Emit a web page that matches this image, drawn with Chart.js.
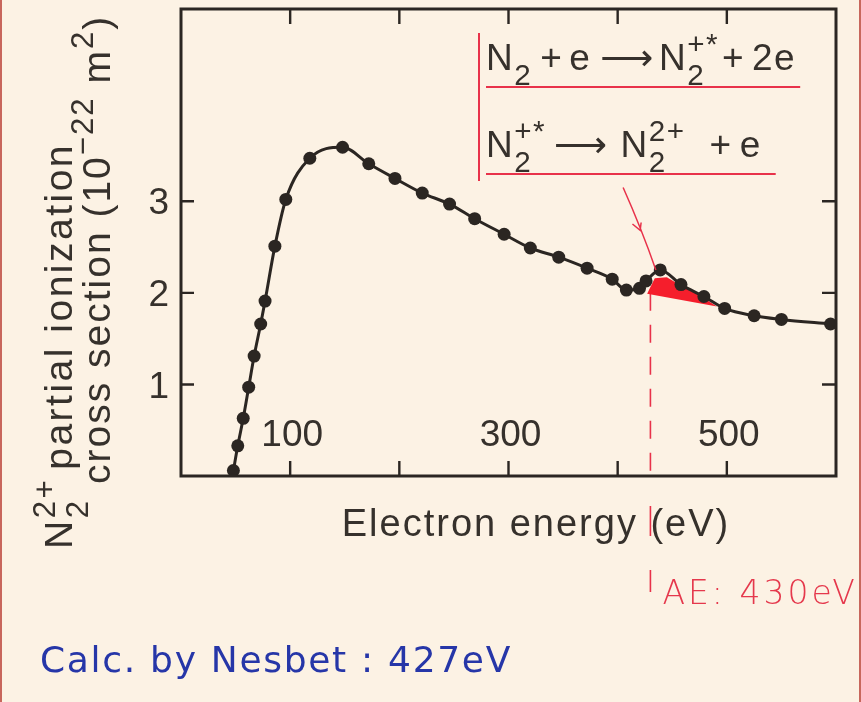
<!DOCTYPE html>
<html>
<head>
<meta charset="utf-8">
<title>N2 2+ partial ionization cross section</title>
<script src="https://cdn.jsdelivr.net/npm/chart.js"></script>
<style>
  html, body { margin: 0; padding: 0; background: #fcf2e4; }
  #wrap { position: relative; width: 861px; height: 702px; }
</style>
</head>
<body>
<div id="wrap"><canvas id="sigmaChart"></canvas></div>
<script>
// electron energy (eV) and N2 2+ partial ionization cross section (10^-22 m^2)
const energy = [48, 52, 57, 62, 67, 73, 77, 86, 96, 118, 148, 172, 196, 221, 246, 269, 296, 320, 346, 372, 395, 408, 420, 426, 439, 458, 479, 498, 525, 550, 595];
const sigma  = [0.06, 0.33, 0.63, 0.97, 1.31, 1.66, 1.91, 2.51, 3.02, 3.47, 3.59, 3.41, 3.25, 3.09, 2.97, 2.81, 2.64, 2.49, 2.39, 2.27, 2.15, 2.03, 2.05, 2.13, 2.25, 2.09, 1.96, 1.83, 1.75, 1.71, 1.66];

// red shaded bump just above the onset
const shadeEnergy = [427, 434, 445, 458, 478, 491];
const shadeSigma  = [1.99, 2.16, 2.17, 2.08, 1.95, 1.85];

const xTicks = [100, 200, 300, 400, 500];
const xLabels = [100, 300, 500];
const yTicks = [1, 2, 3];
const aeEnergy = 430;   // appearance energy, dashed red line
const arrowFrom = [405, 3.15];
const arrowTo = [435, 2.25];

const ink = '#2b2622';
const textInk = '#36312c';
const red = '#e8324a';

function fontOf(size) {
  return size + 'px "Liberation Sans", Arial, "DejaVu Sans", sans-serif';
}

// draws text with sub/superscripts, returns end x
function richText(ctx, x, y, parts, size) {
  let cx = x;
  const small = size * 0.8;
  for (const p of parts) {
    if (p.gap) { cx += p.gap; continue; }
    if (p.sub !== undefined || p.sup !== undefined) {
      ctx.font = fontOf(small);
      let w = 0;
      if (p.sub !== undefined) {
        ctx.fillText(p.sub, cx, y + size * 0.4);
        w = Math.max(w, ctx.measureText(p.sub).width);
      }
      if (p.sup !== undefined) {
        ctx.fillText(p.sup, cx, y - size * 0.44);
        w = Math.max(w, ctx.measureText(p.sup).width);
      }
      cx += w;
    } else {
      ctx.font = fontOf(size);
      ctx.fillText(p.t, cx, y);
      cx += ctx.measureText(p.t).width;
    }
  }
  return cx;
}

const paperPlugin = {
  id: 'paper',
  beforeDraw(chart) {
    const ctx = chart.ctx;
    ctx.save();
    ctx.fillStyle = '#fcf2e4';
    ctx.fillRect(0, 0, chart.width, chart.height);
    // reddish edges of the sheet
    ctx.fillStyle = '#c8675c';
    ctx.fillRect(0, 0, 2, chart.height);
    ctx.fillRect(chart.width - 2, 0, 2, chart.height);
    ctx.restore();
  },
  beforeDatasetsDraw(chart) {
    const {ctx, chartArea: a, scales: {x, y}} = chart;
    const px = x.getPixelForValue(aeEnergy);
    ctx.save();
    ctx.strokeStyle = red;
    ctx.lineWidth = 1.6;
    ctx.setLineDash([18, 14]);
    ctx.beginPath();
    ctx.moveTo(px, y.getPixelForValue(2.0));
    ctx.lineTo(px, a.bottom + 4);
    ctx.stroke();
    ctx.setLineDash([]);
    ctx.beginPath();
    ctx.moveTo(px, a.bottom + 30);
    ctx.lineTo(px, a.bottom + 60);
    ctx.moveTo(px, a.bottom + 94);
    ctx.lineTo(px, a.bottom + 116);
    ctx.stroke();
    ctx.restore();
  },
  afterDraw(chart) {
    const {ctx, chartArea: a, scales: {x, y}} = chart;
    ctx.save();

    // frame
    ctx.strokeStyle = ink;
    ctx.lineWidth = 3;
    ctx.strokeRect(a.left, a.top, a.right - a.left, a.bottom - a.top);

    // inward ticks on all four sides
    ctx.lineWidth = 2.4;
    ctx.beginPath();
    for (const v of xTicks) {
      const px = x.getPixelForValue(v);
      ctx.moveTo(px, a.bottom); ctx.lineTo(px, a.bottom - 15);
      ctx.moveTo(px, a.top); ctx.lineTo(px, a.top + 15);
    }
    for (const v of yTicks) {
      const py = y.getPixelForValue(v);
      ctx.moveTo(a.left, py); ctx.lineTo(a.left + 13, py);
      ctx.moveTo(a.right, py); ctx.lineTo(a.right - 14, py);
    }
    ctx.stroke();

    // tick labels
    ctx.fillStyle = textInk;
    ctx.font = fontOf(37);
    ctx.textBaseline = 'middle';
    ctx.textAlign = 'center';
    for (const v of xLabels) {
      ctx.fillText(String(v), x.getPixelForValue(v) + 2, a.bottom - 40);
    }
    ctx.textAlign = 'right';
    for (const v of yTicks) {
      ctx.fillText(String(v), a.left - 12, y.getPixelForValue(v) + 3);
    }

    // x axis title
    ctx.textBaseline = 'alphabetic';
    ctx.textAlign = 'center';
    ctx.letterSpacing = '2px';
    ctx.font = fontOf(38);
    ctx.fillText('Electron energy (eV)', 536, a.bottom + 60);

    // y axis title, two rotated lines
    ctx.textAlign = 'left';
    ctx.letterSpacing = '2.5px';
    ctx.save();
    ctx.translate(72, 549);
    ctx.rotate(-Math.PI / 2);
    richText(ctx, 0, 0, [{t: 'N'}, {sub: '2', sup: '2+'}, {gap: 8}, {t: 'partial ionization'}], 39);
    ctx.restore();
    ctx.letterSpacing = '2px';
    ctx.save();
    ctx.translate(110, 484);
    ctx.rotate(-Math.PI / 2);
    richText(ctx, 0, 0, [{t: 'cross section (10'}, {sup: '\u221222'}, {t: ' m'}, {sup: '2'}, {t: ')'}], 39);
    ctx.restore();

    // reaction scheme
    ctx.fillStyle = textInk;
    ctx.letterSpacing = '1.5px';
    const eqX = 486;
    const e1 = richText(ctx, eqX, 70, [
      {t: 'N'}, {sub: '2'}, {gap: 8}, {t: '+'}, {gap: 6}, {t: 'e'}, {gap: 9}, {t: '\u27F6'}, {gap: 4},
      {t: 'N'}, {sub: '2', sup: '+*'}, {gap: 3}, {t: '+'}, {gap: 7}, {t: '2e'}
    ], 37);
    const e2 = richText(ctx, eqX, 157, [
      {t: 'N'}, {sub: '2', sup: '+*'}, {gap: 8}, {t: '\u27F6'}, {gap: 12},
      {t: 'N'}, {sub: '2', sup: '2+'}, {gap: 24}, {t: '+'}, {gap: 7}, {t: 'e'}
    ], 37);
    ctx.letterSpacing = '0px';
    ctx.strokeStyle = red;
    ctx.lineWidth = 2;
    ctx.beginPath();
    ctx.moveTo(479, 33); ctx.lineTo(479, 181);
    ctx.moveTo(486, 87); ctx.lineTo(e1 + 4, 87);
    ctx.moveTo(486, 174); ctx.lineTo(e2 + 14, 174);
    ctx.stroke();

    // arrow pointing at the onset
    const ax0 = x.getPixelForValue(arrowFrom[0]), ay0 = y.getPixelForValue(arrowFrom[1]);
    const ax1 = x.getPixelForValue(arrowTo[0]), ay1 = y.getPixelForValue(arrowTo[1]);
    ctx.lineWidth = 1.5;
    ctx.beginPath();
    ctx.moveTo(ax0, ay0);
    ctx.quadraticCurveTo((ax0 + ax1) / 2 + 2, (ay0 + ay1) / 2, ax1, ay1);
    const hx = ax0 + (ax1 - ax0) * 0.52, hy = ay0 + (ay1 - ay0) * 0.52;
    const ang = Math.atan2(ay1 - ay0, ax1 - ax0);
    ctx.moveTo(hx + 10 * Math.cos(ang + Math.PI - 0.5), hy + 10 * Math.sin(ang + Math.PI - 0.5));
    ctx.lineTo(hx, hy);
    ctx.lineTo(hx + 8 * Math.cos(ang + Math.PI + 0.5), hy + 8 * Math.sin(ang + Math.PI + 0.5));
    ctx.stroke();

    // handwritten notes
    ctx.textAlign = 'left';
    ctx.fillStyle = '#e5384c';
    ctx.font = '300 33px "DejaVu Sans", sans-serif';
    ctx.letterSpacing = '3px';
    ctx.fillText('AE: 430eV', x.getPixelForValue(aeEnergy) + 12, a.bottom + 128);
    ctx.fillStyle = '#2636a8';
    ctx.font = '36px "DejaVu Sans", sans-serif';
    ctx.letterSpacing = '1.7px';
    ctx.fillText('Calc. by Nesbet : 427eV', 40, 672);
    ctx.restore();
  }
};

new Chart(document.getElementById('sigmaChart'), {
  type: 'line',
  data: {
    datasets: [
      {
        data: energy.map((e, i) => ({x: e, y: sigma[i]})),
        borderColor: ink,
        borderWidth: 3,
        pointRadius: 6.5,
        pointBackgroundColor: ink,
        pointBorderWidth: 0,
        cubicInterpolationMode: 'monotone',
        fill: false,
        clip: false
      },
      {
        data: shadeEnergy.map((e, i) => ({x: e, y: shadeSigma[i]})),
        borderWidth: 0,
        pointRadius: 0,
        backgroundColor: '#f51e2c',
        fill: 'shape'
      }
    ]
  },
  options: {
    responsive: true,
    maintainAspectRatio: false,
    animation: false,
    layout: { padding: { left: 173, right: 25, top: 9, bottom: 218 } },
    plugins: { legend: { display: false }, tooltip: { enabled: false } },
    scales: {
      x: { type: 'linear', min: 0, max: 600, ticks: { display: false, stepSize: 100 }, grid: { display: false }, border: { display: false } },
      y: { type: 'linear', min: 0, max: 5.1, ticks: { display: false, stepSize: 1 }, grid: { display: false }, border: { display: false } }
    }
  },
  plugins: [paperPlugin]
});
</script>
</body>
</html>
